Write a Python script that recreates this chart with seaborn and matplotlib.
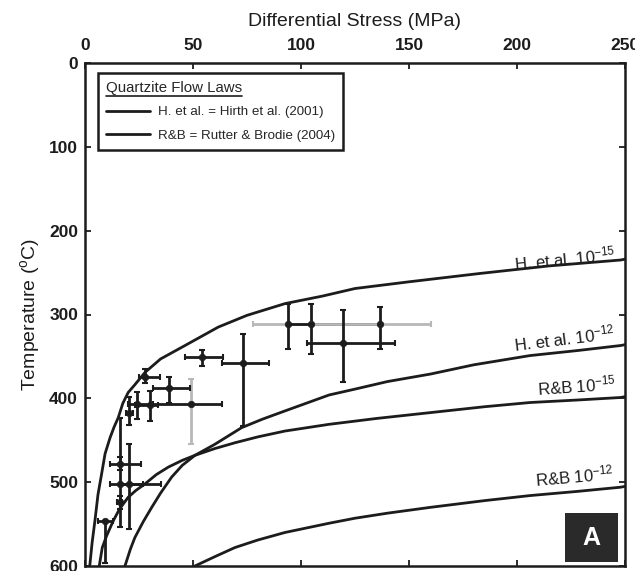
import matplotlib
matplotlib.use("Agg")
import numpy as np
import pandas as pd
import seaborn as sns
import matplotlib.pyplot as plt
from matplotlib.lines import Line2D
from matplotlib.patches import Rectangle

# ---------------- data ----------------
# Flow-law curves: differential stress (MPa) vs temperature (deg C)
h15_stress = [2.2, 3.3, 4.6, 6.0, 7.7, 9.3, 11.6, 13.5, 15.4, 17.5, 20.0, 23.0, 27.8, 35.0,
              46.3, 61.7, 75.0, 92.6, 110.0, 125.0, 150.0, 183.0, 215.0, 248.0, 250.0]
h15_temp   = [600, 572, 546, 515, 490, 466, 447, 434, 423, 406, 393, 384, 369, 353,
              337, 315, 301, 287, 278, 269, 261, 251, 242, 235, 234]

h12_stress = [18.5, 21.0, 23.1, 27.0, 30.9, 35.0, 40.1, 45.0, 50.9, 60.0, 72.5, 82.0, 92.6,
              113.0, 125.0, 140.0, 160.0, 180.0, 206.0, 228.0, 248.0, 250.0]
h12_temp   = [600, 580, 566, 547, 530, 513, 494, 480, 468, 455, 435, 425, 415,
              396, 389, 380, 371, 360, 349, 343, 337, 336]

rb15_stress = [6.6, 8.0, 10.0, 13.1, 16.0, 20.0, 23.5, 27.8, 33.0, 38.6, 45.0, 50.9, 60.0, 69.4,
               80.0, 92.6, 113.0, 135.0, 160.0, 185.0, 206.0, 228.0, 248.0, 250.0]
rb15_temp   = [600, 578, 564, 546, 532, 518, 510, 502, 491, 482, 474, 468, 460, 453,
               446, 439, 431, 424, 417, 410, 405, 402, 399, 398]

rb12_stress = [50.9, 60.0, 69.4, 80.0, 92.6, 113.0, 125.0, 140.0, 160.0, 185.0, 206.0, 228.0, 248.0, 250.0]
rb12_temp   = [600, 589, 578, 569, 560, 549, 543, 537, 530, 522, 516, 511, 506, 505]

curve_names = ["H15", "H12", "RB15", "RB12"]

# Data points with error ranges
pt_stress = [16.0, 16.0, 20.5, 16.0, 9.3, 20.5, 23.9, 30.0, 49.0, 27.8, 39.0, 54.0, 73.0, 93.8, 104.5, 136.6, 119.6]
pt_temp   = [478, 502, 502, 524, 546, 418, 407, 408, 407, 374, 388, 351, 358, 311, 311, 311, 334]
pt_s_lo   = [11.5, 11.5, 16.0, 15.0, 6.2, 19.0, 20.0, 23.0, 31.6, 25.0, 31.6, 46.3, 63.3, 78.0, 94.0, 104.5, 102.6]
pt_s_hi   = [26.0, 27.0, 35.0, 17.0, 13.0, 22.0, 30.0, 34.0, 63.3, 34.5, 48.6, 64.0, 85.0, 104.5, 136.6, 160.0, 143.5]
pt_t_lo   = [470, 424, 455, 516, 546, 398, 393, 391, 377, 365, 374, 342, 323, 287, 287, 291, 295]
pt_t_hi   = [486, 554, 556, 532, 597, 432, 425, 427, 455, 382, 405, 361, 433, 341, 347, 341, 381]
pt_s_gray = [False, False, False, False, False, False, False, False, False, False, False, False, False, True, False, True, False]
pt_t_gray = [False, False, False, False, False, False, False, False, True, False, False, False, False, False, False, False, False]

x_ticks = [0, 50, 100, 150, 200, 250]
y_ticks = [0, 100, 200, 300, 400, 500, 600]

legend_title = "Quartzite Flow Laws"
legend_labels = ["H. et al. = Hirth et al. (2001)", "R&B = Rutter & Brodie (2004)"]
curve_labels = [("H. et al. 10$^{-15}$", 246, 239, 5.5),
                ("H. et al. 10$^{-12}$", 246, 333, 7.0),
                ("R&B 10$^{-15}$", 246, 394, 4.0),
                ("R&B 10$^{-12}$", 245, 500, 5.0)]

# ---------------- style ----------------
sns.set_style("ticks")
plt.rcParams["font.family"] = ["Liberation Sans", "DejaVu Sans"]
plt.rcParams["mathtext.fontset"] = "custom"
plt.rcParams["mathtext.rm"] = "Liberation Sans"
plt.rcParams["mathtext.it"] = "Liberation Sans:italic"
plt.rcParams["mathtext.bf"] = "Liberation Sans:bold"

INK = "#1c1c1c"
GRAY = "#b8b8b8"

fig = plt.figure(figsize=(6.35, 5.71), dpi=100)
ax = fig.add_axes([85 / 635, 1 - 566 / 571, 540 / 635, 503 / 571])

# curves
frames = []
for name, s, t in zip(curve_names,
                      [h15_stress, h12_stress, rb15_stress, rb12_stress],
                      [h15_temp, h12_temp, rb15_temp, rb12_temp]):
    frames.append(pd.DataFrame({"curve": name, "stress": s, "temp": t}))
curves = pd.concat(frames, ignore_index=True)
sns.lineplot(data=curves, x="stress", y="temp", units="curve", estimator=None,
             sort=False, color=INK, linewidth=2.0, ax=ax, legend=False)
for ln in ax.get_lines():
    ln.set_solid_joinstyle("round")

# error bars
for i in range(len(pt_stress)):
    s, t = pt_stress[i], pt_temp[i]
    xerr = [[s - pt_s_lo[i]], [pt_s_hi[i] - s]]
    yerr = [[t - pt_t_lo[i]], [pt_t_hi[i] - t]]
    ax.errorbar([s], [t], xerr=xerr, fmt="none",
                ecolor=GRAY if pt_s_gray[i] else INK, elinewidth=2.0,
                capsize=2, capthick=1.5, zorder=3)
    ax.errorbar([s], [t], yerr=yerr, fmt="none",
                ecolor=GRAY if pt_t_gray[i] else INK, elinewidth=2.0,
                capsize=2.5, capthick=1.5, zorder=3)

pts = pd.DataFrame({"stress": pt_stress, "temp": pt_temp})
sns.scatterplot(data=pts, x="stress", y="temp", color=INK, s=22,
                edgecolor=INK, linewidth=0.5, ax=ax, zorder=4, legend=False)

# axes
ax.set_xlim(0, 250)
ax.set_ylim(600, 0)
ax.set_xticks(x_ticks)
ax.set_yticks(y_ticks)
ax.xaxis.tick_top()
ax.xaxis.set_label_position("top")
ax.tick_params(axis="both", which="both", direction="in", length=4, width=1.3,
               top=True, bottom=True, left=True, right=True,
               labelsize=12.5, colors=INK, pad=7)
ax.tick_params(axis="y", pad=5)
ax.tick_params(axis="x", labelbottom=False, labeltop=True)
for lbl in ax.get_xticklabels() + ax.get_yticklabels():
    lbl.set_fontweight("bold")
ax.set_xlabel("Differential Stress (MPa)", fontsize=14, color=INK, labelpad=9)
ax.set_ylabel(r"Temperature ($^{\mathregular{o}}$C)", fontsize=14, color=INK, labelpad=5)
for sp in ax.spines.values():
    sp.set_linewidth(1.8)
    sp.set_color(INK)
    sp.set_visible(True)

# curve labels
for txt, x, y, rot in curve_labels:
    ax.text(x, y, txt, fontsize=12, color=INK, ha="right", va="bottom",
            rotation=rot, rotation_mode="anchor", zorder=5)

# legend
handles = [Line2D([], [], color=INK, lw=2.0), Line2D([], [], color=INK, lw=2.0)]
leg = ax.legend(handles, legend_labels, title=legend_title, loc="upper left",
                bbox_to_anchor=(0.024, 0.981), fontsize=9.6, title_fontsize=10.8,
                frameon=True, fancybox=False, edgecolor=INK, handlelength=3.3,
                borderpad=0.6, labelspacing=0.85, handletextpad=0.6,
                alignment="left", borderaxespad=0)
leg.get_frame().set_linewidth(1.8)
leg.get_frame().set_facecolor("white")
leg.get_frame().set_alpha(1)

# "A" panel tag
ax.add_patch(Rectangle((0.889, 0.008), 0.098, 0.097, transform=ax.transAxes,
                       facecolor="#2a2a2a", edgecolor="none", zorder=6))
ax.text(0.938, 0.056, "A", transform=ax.transAxes, ha="center", va="center",
        color="white", fontsize=18, fontweight="bold", zorder=7)

# underline legend title
fig.canvas.draw()
bb = leg.get_title().get_window_extent()
inv = fig.transFigure.inverted()
(x0, y0), (x1, y1) = inv.transform([(bb.x0, bb.y0), (bb.x1, bb.y0)])
fig.add_artist(Line2D([x0, x1], [y0 - 0.002, y0 - 0.002], color=INK, lw=1.2,
                      transform=fig.transFigure))

fig.savefig("out.png", dpi=100)
